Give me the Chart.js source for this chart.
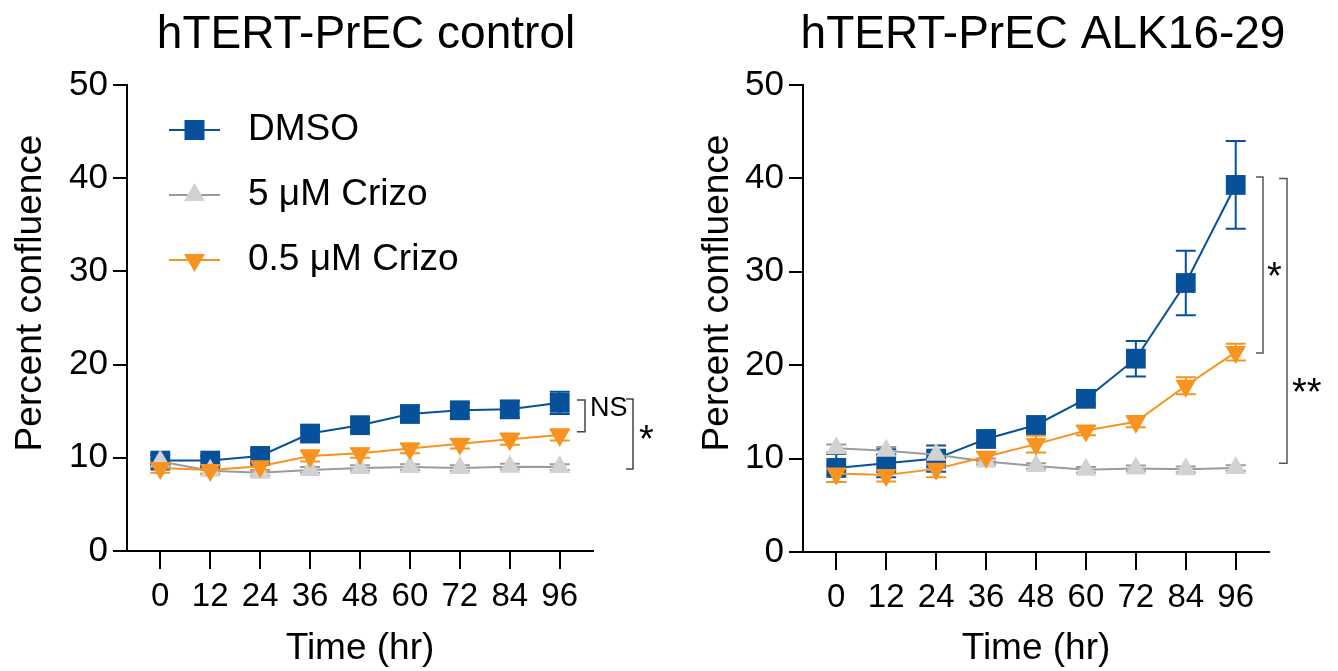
<!DOCTYPE html>
<html><head><meta charset="utf-8">
<script src="https://cdn.jsdelivr.net/npm/chart.js@4.4.0/dist/chart.umd.min.js"></script>
<style>
html,body{margin:0;padding:0;background:#fff;}
#wrap{position:relative;width:1338px;height:671px;overflow:hidden;}
canvas{position:absolute;top:0;}
</style></head><body>
<div id="wrap">
<canvas id="c1" width="669" height="671" style="left:0"></canvas>
<canvas id="c2" width="669" height="671" style="left:669px"></canvas>
</div>
<script>
// ---------- data ----------
const timeLabels = [0, 12, 24, 36, 48, 60, 72, 84, 96];
const yTickValues = [0, 10, 20, 30, 40, 50];
const seriesNames = ['DMSO', '5 μM Crizo', '0.5 μM Crizo'];
const panelTitles = ['hTERT-PrEC control', 'hTERT-PrEC ALK16-29'];
const xTitle = 'Time (hr)';
const yTitle = 'Percent confluence';

// control panel
const ctrlDMSO      = [9.7, 9.7, 10.2, 12.6, 13.5, 14.7, 15.1, 15.2, 15.9];
const ctrlDMSOErr   = [0.6, 0.5, 0.6, 0.8, 0.7, 0.8, 0.8, 0.9, 1.2];
const ctrlCrizo5    = [9.6, 8.6, 8.4, 8.7, 8.9, 9.0, 8.9, 9.05, 9.0];
const ctrlCrizo5Err = [0.3, 0.3, 0.3, 0.3, 0.3, 0.3, 0.3, 0.3, 0.3];
const ctrlCrizo05   = [8.9, 8.7, 9.1, 10.2, 10.5, 11.0, 11.5, 12.0, 12.45];
const ctrlCrizo05Err= [0.5, 0.4, 0.5, 0.6, 0.5, 0.5, 0.5, 0.6, 0.6];
const ctrlSigLabels = ['NS', '*'];
const ctrlSigRanges = [[16.2, 12.8], [16.3, 8.8]];

// ALK16-29 panel
const alkDMSO       = [9.0, 9.5, 10.0, 12.1, 13.6, 16.4, 20.7, 28.8, 39.3];
const alkDMSOErr    = [1.5, 1.5, 1.4, 0.8, 0.7, 0.5, 1.9, 3.45, 4.7];
const alkCrizo5     = [11.1, 10.85, 10.4, 9.7, 9.2, 8.8, 8.95, 8.85, 9.0];
const alkCrizo5Err  = [0.4, 0.4, 0.4, 0.3, 0.3, 0.3, 0.3, 0.3, 0.3];
const alkCrizo05    = [8.4, 8.25, 8.9, 10.2, 11.55, 13.0, 13.95, 17.8, 21.4];
const alkCrizo05Err = [0.9, 0.7, 0.9, 0.5, 0.9, 0.5, 0.6, 0.9, 0.9];
const alkSigLabels  = ['*', '**'];
const alkSigRanges  = [[40.15, 21.3], [40.0, 9.5]];

// ---------- styles ----------
const FONT = "'Liberation Sans', Arial, Helvetica, sans-serif";
const BLUE = '#06519a';
const GRAY_LINE = '#9b9b9b';
const GRAY_FILL = '#d2d2d2';
const ORANGE = '#f7931e';

function pts(arr){ return timeLabels.map((t,i)=>({x:t, y:arr[i]})); }

function makeDatasets(dmso, dmsoErr, c5, c5Err, c05, c05Err){
  return [
    {label:seriesNames[0], data:pts(dmso), errors:dmsoErr, errColor:BLUE,
     borderColor:BLUE, backgroundColor:BLUE, borderWidth:2,
     pointStyle:'rect', pointRadius:14, pointBorderWidth:0,
     pointBackgroundColor:BLUE, order:3},
    {label:seriesNames[1], data:pts(c5), errors:c5Err, errColor:GRAY_LINE,
     borderColor:GRAY_LINE, backgroundColor:GRAY_FILL, borderWidth:2,
     pointStyle:'triangle', pointRadius:12, pointBorderWidth:0,
     pointBackgroundColor:GRAY_FILL, order:2},
    {label:seriesNames[2], data:pts(c05), errors:c05Err, errColor:ORANGE,
     borderColor:ORANGE, backgroundColor:ORANGE, borderWidth:2,
     pointStyle:'triangle', pointRotation:180, pointRadius:12, pointBorderWidth:0,
     pointBackgroundColor:ORANGE, order:1}
  ];
}

const errorBars = {
  id:'errorBars',
  beforeDatasetsDraw(chart){
    const {ctx, scales:{x, y}} = chart;
    chart.data.datasets.forEach(ds=>{
      ctx.save();
      ctx.strokeStyle = ds.errColor;
      ctx.lineWidth = 2;
      ds.data.forEach((p,j)=>{
        const e = ds.errors[j];
        const px = x.getPixelForValue(p.x);
        const yt = y.getPixelForValue(p.y + e), yb = y.getPixelForValue(p.y - e);
        ctx.beginPath();
        ctx.moveTo(px, yt); ctx.lineTo(px, yb);
        ctx.moveTo(px-10, yt); ctx.lineTo(px+10, yt);
        ctx.moveTo(px-10, yb); ctx.lineTo(px+10, yb);
        ctx.stroke();
      });
      ctx.restore();
    });
  }
};

const panelText = {
  id:'panelText',
  afterDraw(chart, args, opts){
    const {ctx} = chart;
    ctx.save();
    ctx.fillStyle = '#000';
    ctx.font = `46px ${FONT}`;
    ctx.textAlign = 'center';
    ctx.textBaseline = 'middle';
    ctx.fillText(opts.title, opts.titleX, 35);
    // y axis title
    ctx.translate(opts.yTitleX, opts.yTitleY);
    ctx.rotate(-Math.PI/2);
    ctx.font = `37px ${FONT}`;
    ctx.fillText(yTitle, 0, 0);
    ctx.restore();
  }
};

const legendPlugin = {
  id:'customLegend',
  afterDraw(chart, args, opts){
    if(!opts.show) return;
    const {ctx} = chart;
    const rows = [130, 195, 260];
    chart.data.datasets.forEach((ds,i)=>{
      const yy = rows[i];
      ctx.save();
      ctx.strokeStyle = ds.borderColor; ctx.lineWidth = 2;
      ctx.beginPath(); ctx.moveTo(169, yy); ctx.lineTo(220, yy); ctx.stroke();
      ctx.fillStyle = ds.pointBackgroundColor;
      const cx = 194.5;
      ctx.beginPath();
      if(ds.pointStyle === 'rect'){
        ctx.rect(cx-10, yy-10, 20, 20);
      } else if(ds.pointRotation === 180){
        ctx.moveTo(cx-10.5, yy-6); ctx.lineTo(cx+10.5, yy-6); ctx.lineTo(cx, yy+12);
      } else {
        ctx.moveTo(cx-10.5, yy+6); ctx.lineTo(cx+10.5, yy+6); ctx.lineTo(cx, yy-12);
      }
      ctx.closePath(); ctx.fill();
      ctx.fillStyle = '#000';
      ctx.font = `37px ${FONT}`;
      ctx.textAlign = 'left'; ctx.textBaseline = 'middle';
      ctx.fillText(ds.label, 248, yy);
      ctx.restore();
    });
  }
};

const sigPlugin = {
  id:'sig',
  afterDraw(chart, args, opts){
    const {ctx, scales:{y}, chartArea} = chart;
    opts.items.forEach(it=>{
      const yt = y.getPixelForValue(it.range[0]);
      const yb = y.getPixelForValue(it.range[1]);
      const xv = chartArea.right + it.dx;
      ctx.save();
      ctx.strokeStyle = opts.color; ctx.lineWidth = 1.5;
      ctx.beginPath();
      ctx.moveTo(xv - it.arm, yt); ctx.lineTo(xv, yt); ctx.lineTo(xv, yb); ctx.lineTo(xv - it.arm, yb);
      ctx.stroke();
      ctx.fillStyle = '#000';
      ctx.font = `${it.size}px ${FONT}`;
      ctx.textAlign = it.align; ctx.textBaseline = 'alphabetic';
      ctx.fillText(it.label, xv + it.lx, (yt+yb)/2 + it.ly);
      ctx.restore();
    });
  }
};

function makeChart(id, datasets, opts){
  return new Chart(document.getElementById(id), {
    type:'line',
    data:{datasets},
    plugins:[errorBars, panelText, legendPlugin, sigPlugin],
    options:{
      responsive:false, animation:false, devicePixelRatio:1,
      layout:{padding:{top:85, right:opts.padRight, bottom:0, left:0}},
      elements:{line:{tension:0}},
      plugins:{
        legend:{display:false}, tooltip:{enabled:false}, title:{display:false},
        panelText:{title:opts.title, titleX:opts.titleX, yTitleX:opts.yTitleX, yTitleY:293},
        customLegend:{show:opts.legend},
        sig:{items:opts.sig, color:opts.sigColor}
      },
      scales:{
        x:{type:'linear', min:-8, max:104,
          afterBuildTicks:s=>{ s.ticks = timeLabels.map(v=>({value:v})); },
          afterFit:s=>{ s.height = 671 - opts.bottom; },
          grid:{drawOnChartArea:false, drawTicks:true, tickLength:18, color:'#000', lineWidth:2},
          border:{display:true, color:'#000', width:2},
          ticks:{color:'#000', font:{size:33, family:FONT}, padding:8, maxRotation:0, autoSkip:false},
          title:{display:true, text:xTitle, color:'#000', font:{size:37, family:FONT}, padding:{top:0,bottom:0}}
        },
        y:{type:'linear', min:0, max:50,
          afterBuildTicks:s=>{ s.ticks = yTickValues.map(v=>({value:v})); },
          afterFit:s=>{ s.width = opts.yWidth; },
          grid:{drawOnChartArea:false, drawTicks:true, tickLength:14, color:'#000', lineWidth:2},
          border:{display:true, color:'#000', width:2},
          ticks:{color:'#000', font:{size:35, family:FONT}, padding:5},
          title:{display:false}
        }
      }
    }
  });
}

makeChart('c1',
  makeDatasets(ctrlDMSO, ctrlDMSOErr, ctrlCrizo5, ctrlCrizo5Err, ctrlCrizo05, ctrlCrizo05Err),
  {title:panelTitles[0], titleX:366, legend:true, yWidth:127, padRight:76, bottom:551,
   yTitleX:31, sigColor:'#444',
   sig:[
     {label:ctrlSigLabels[0], range:ctrlSigRanges[0], dx:-8, arm:8, lx:5, ly:0, size:27, align:'left'},
     {label:ctrlSigLabels[1], range:ctrlSigRanges[1], dx:40, arm:7, lx:6, ly:18, size:38, align:'left'}
   ]});

makeChart('c2',
  makeDatasets(alkDMSO, alkDMSOErr, alkCrizo5, alkCrizo5Err, alkCrizo05, alkCrizo05Err),
  {title:panelTitles[1], titleX:374, legend:false, yWidth:134, padRight:69, bottom:552,
   yTitleX:49, sigColor:'#555',
   sig:[
     {label:alkSigLabels[0], range:alkSigRanges[0], dx:-6, arm:7, lx:4, ly:24, size:38, align:'left'},
     {label:alkSigLabels[1], range:alkSigRanges[1], dx:18, arm:8, lx:5, ly:84, size:38, align:'left'}
   ]});
</script>
</body></html>
